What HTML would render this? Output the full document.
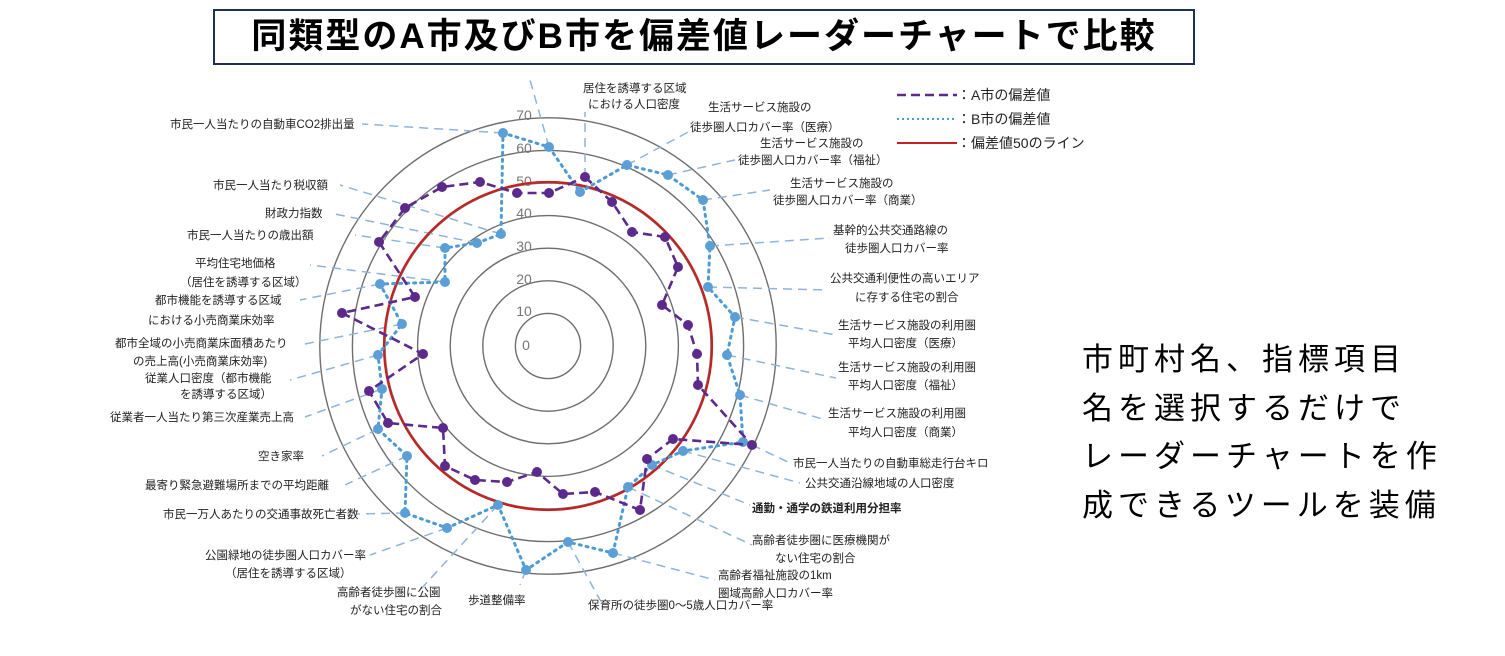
<!DOCTYPE html>
<html><head><meta charset="utf-8"><style>
body{margin:0;background:#fff;width:1505px;height:656px;overflow:hidden;font-family:"Liberation Sans","Noto Sans CJK JP",sans-serif}
svg{position:absolute;left:0;top:0}
.t{position:absolute;left:213px;top:9px;width:982px;height:56px;border:2px solid #1f2f5a;box-sizing:border-box;text-align:center;font-size:35px;font-weight:bold;line-height:52px;color:#000;letter-spacing:2px;white-space:nowrap}
.r{position:absolute;left:1082px;top:336px;font-size:31px;line-height:48.5px;color:#000;letter-spacing:5px;white-space:nowrap}
</style></head><body>
<div class="t">同類型のA市及びB市を偏差値レーダーチャートで比較</div>
<div class="r">市町村名、指標項目<br>名を選択するだけで<br>レーダーチャートを作<br>成できるツールを装備</div>
<svg width="1505" height="656" font-family="Liberation Sans, Noto Sans CJK JP, sans-serif">
<g fill="none" stroke="#6e6e6e" stroke-width="1.4">
<circle cx="548" cy="346" r="32.6"/><circle cx="548" cy="346" r="65.2"/><circle cx="548" cy="346" r="97.8"/><circle cx="548" cy="346" r="130.4"/><circle cx="548" cy="346" r="163"/><circle cx="548" cy="346" r="195.6"/><circle cx="548" cy="346" r="228.2"/>
</g>
<g font-size="14" fill="#777" text-anchor="middle">
<text x="524" y="120">70</text><text x="524" y="153">60</text><text x="524" y="186">50</text><text x="524" y="218">40</text><text x="524" y="251">30</text><text x="524" y="284">20</text><text x="524" y="316">10</text><text x="526" y="350">0</text>
</g>
<g stroke="#8fb4d8" stroke-width="1.5" stroke-dasharray="9,6" fill="none">
<line x1="503" y1="133" x2="362" y2="124"/><line x1="585" y1="177" x2="585" y2="112"/><line x1="549" y1="147" x2="530" y2="80"/>
<line x1="627" y1="165" x2="690" y2="131"/><line x1="668" y1="175" x2="735" y2="160"/><line x1="703" y1="200" x2="770" y2="190"/>
<line x1="710" y1="246" x2="830" y2="238"/><line x1="708" y1="287" x2="828" y2="290"/><line x1="735" y1="317" x2="836" y2="335"/>
<line x1="727" y1="355" x2="836" y2="378"/><line x1="740" y1="395" x2="826" y2="420"/><line x1="752" y1="445" x2="790" y2="463"/>
<line x1="683" y1="451" x2="800" y2="483"/><line x1="652" y1="465" x2="750" y2="505"/><line x1="628" y1="487" x2="752" y2="545"/>
<line x1="613" y1="553" x2="715" y2="580"/><line x1="568" y1="542" x2="600" y2="600"/><line x1="526" y1="570" x2="520" y2="585"/>
<line x1="498" y1="505" x2="420" y2="590"/><line x1="447" y1="528" x2="370" y2="555"/><line x1="405" y1="513" x2="357" y2="514"/>
<line x1="407" y1="456" x2="345" y2="485"/><line x1="378" y1="429" x2="322" y2="456"/><line x1="382" y1="389" x2="305" y2="417"/>
<line x1="378" y1="355" x2="290" y2="380"/><line x1="402" y1="324" x2="300" y2="345"/><line x1="380" y1="284" x2="300" y2="300"/>
<line x1="445" y1="282" x2="310" y2="265"/><line x1="445" y1="248" x2="355" y2="235"/><line x1="477" y1="243" x2="330" y2="213"/>
<line x1="501" y1="234" x2="340" y2="185"/>
</g>
<circle cx="548" cy="346" r="164" fill="none" stroke="#c8201e" stroke-width="2.2"/>
<polygon fill="none" stroke="#4d9bd4" stroke-width="3" stroke-dasharray="2,5" stroke-linecap="round" points="580,192 627,165 668,175 703,200 710,246 708,287 735,317 727,355 740,395 743,442 683,451 652,465 628,487 613,553 568,542 526,570 498,505 447,528 405,513 407,456 378,429 382,389 378,355 402,324 380,284 445,282 445,248 477,243 501,234 503,133 549,147"/>
<g fill="#5b9fd6">
<circle cx="580" cy="192" r="5"/><circle cx="627" cy="165" r="5"/><circle cx="668" cy="175" r="5"/><circle cx="703" cy="200" r="5"/><circle cx="710" cy="246" r="5"/><circle cx="708" cy="287" r="5"/><circle cx="735" cy="317" r="5"/><circle cx="727" cy="355" r="5"/><circle cx="740" cy="395" r="5"/><circle cx="743" cy="442" r="5"/><circle cx="683" cy="451" r="5"/><circle cx="652" cy="465" r="5"/><circle cx="628" cy="487" r="5"/><circle cx="613" cy="553" r="5"/><circle cx="568" cy="542" r="5"/><circle cx="526" cy="570" r="5"/><circle cx="498" cy="505" r="5"/><circle cx="447" cy="528" r="5"/><circle cx="405" cy="513" r="5"/><circle cx="407" cy="456" r="5"/><circle cx="378" cy="429" r="5"/><circle cx="382" cy="389" r="5"/><circle cx="378" cy="355" r="5"/><circle cx="402" cy="324" r="5"/><circle cx="380" cy="284" r="5"/><circle cx="445" cy="282" r="5"/><circle cx="445" cy="248" r="5"/><circle cx="477" cy="243" r="5"/><circle cx="501" cy="234" r="5"/><circle cx="503" cy="133" r="5"/><circle cx="549" cy="147" r="5"/>
</g>
<polygon fill="none" stroke="#5b2a8c" stroke-width="2.6" stroke-dasharray="9,5" points="585,177 612,202 632,232 665,237 678,267 662,305 688,325 697,354 698,385 752,445 673,439 647,459 640,510 595,492 563,494 537,472 507,482 475,480 445,466 443,428 388,423 369,391 423,354 342,313 415,297 379,242 405,208 442,187 480,182 517,193 549,193"/>
<g fill="#5b2a8c">
<circle cx="585" cy="177" r="5"/><circle cx="612" cy="202" r="5"/><circle cx="632" cy="232" r="5"/><circle cx="665" cy="237" r="5"/><circle cx="678" cy="267" r="5"/><circle cx="662" cy="305" r="5"/><circle cx="688" cy="325" r="5"/><circle cx="697" cy="354" r="5"/><circle cx="698" cy="385" r="5"/><circle cx="752" cy="445" r="5"/><circle cx="673" cy="439" r="5"/><circle cx="647" cy="459" r="5"/><circle cx="640" cy="510" r="5"/><circle cx="595" cy="492" r="5"/><circle cx="563" cy="494" r="5"/><circle cx="537" cy="472" r="5"/><circle cx="507" cy="482" r="5"/><circle cx="475" cy="480" r="5"/><circle cx="445" cy="466" r="5"/><circle cx="443" cy="428" r="5"/><circle cx="388" cy="423" r="5"/><circle cx="369" cy="391" r="5"/><circle cx="423" cy="354" r="5"/><circle cx="342" cy="313" r="5"/><circle cx="415" cy="297" r="5"/><circle cx="379" cy="242" r="5"/><circle cx="405" cy="208" r="5"/><circle cx="442" cy="187" r="5"/><circle cx="480" cy="182" r="5"/><circle cx="517" cy="193" r="5"/><circle cx="549" cy="193" r="5"/>
</g>
<g font-size="11.5" fill="#222">
<text x="583" y="92">居住を誘導する区域</text><text x="588" y="108">における人口密度</text>
<text x="708" y="111">生活サービス施設の</text><text x="690" y="131">徒歩圏人口カバー率（医療）</text>
<text x="760" y="147">生活サービス施設の</text><text x="738" y="164">徒歩圏人口カバー率（福祉）</text>
<text x="790" y="187">生活サービス施設の</text><text x="773" y="204">徒歩圏人口カバー率（商業）</text>
<text x="833" y="234">基幹的公共交通路線の</text><text x="845" y="252">徒歩圏人口カバー率</text>
<text x="830" y="282">公共交通利便性の高いエリア</text><text x="855" y="301">に存する住宅の割合</text>
<text x="838" y="329">生活サービス施設の利用圏</text><text x="848" y="347">平均人口密度（医療）</text>
<text x="838" y="371">生活サービス施設の利用圏</text><text x="848" y="389">平均人口密度（福祉）</text>
<text x="828" y="417">生活サービス施設の利用圏</text><text x="848" y="436">平均人口密度（商業）</text>
<text x="793" y="467">市民一人当たりの自動車総走行台キロ</text>
<text x="805" y="487">公共交通沿線地域の人口密度</text>
<text x="752" y="512" font-weight="bold">通勤・通学の鉄道利用分担率</text>
<text x="752" y="544">高齢者徒歩圏に医療機関が</text><text x="775" y="562">ない住宅の割合</text>
<text x="718" y="579">高齢者福祉施設の1km</text><text x="718" y="597">圏域高齢人口カバー率</text>
<text x="588" y="609">保育所の徒歩圏0～5歳人口カバー率</text>
<text x="468" y="604">歩道整備率</text>
<text x="337" y="596">高齢者徒歩圏に公園</text><text x="350" y="614">がない住宅の割合</text>
<text x="205" y="559">公園緑地の徒歩圏人口カバー率</text><text x="225" y="577">（居住を誘導する区域）</text>
<text x="163" y="518">市民一万人あたりの交通事故死亡者数</text>
<text x="145" y="489">最寄り緊急避難場所までの平均距離</text>
<text x="258" y="460">空き家率</text>
<text x="110" y="421">従業者一人当たり第三次産業売上高</text>
<text x="145" y="382">従業人口密度（都市機能</text><text x="180" y="398">を誘導する区域）</text>
<text x="115" y="347">都市全域の小売商業床面積あたり</text><text x="133" y="365">の売上高(小売商業床効率)</text>
<text x="155" y="304">都市機能を誘導する区域</text><text x="148" y="324">における小売商業床効率</text>
<text x="195" y="267">平均住宅地価格</text><text x="180" y="286">（居住を誘導する区域）</text>
<text x="187" y="239">市民一人当たりの歳出額</text>
<text x="265" y="217">財政力指数</text>
<text x="213" y="189">市民一人当たり税収額</text>
<text x="170" y="128">市民一人当たりの自動車CO2排出量</text>
</g>
<line x1="897" y1="95" x2="957" y2="95" stroke="#5b2a8c" stroke-width="2.6" stroke-dasharray="9,5"/>
<line x1="897" y1="119" x2="957" y2="119" stroke="#4d9bd4" stroke-width="2" stroke-dasharray="2,3"/>
<line x1="897" y1="143" x2="957" y2="143" stroke="#c8201e" stroke-width="2"/>
<g font-size="14" fill="#222">
<text x="957" y="100">：A市の偏差値</text><text x="957" y="124">：B市の偏差値</text><text x="957" y="148">：偏差値50のライン</text>
</g>
</svg>
</body></html>
